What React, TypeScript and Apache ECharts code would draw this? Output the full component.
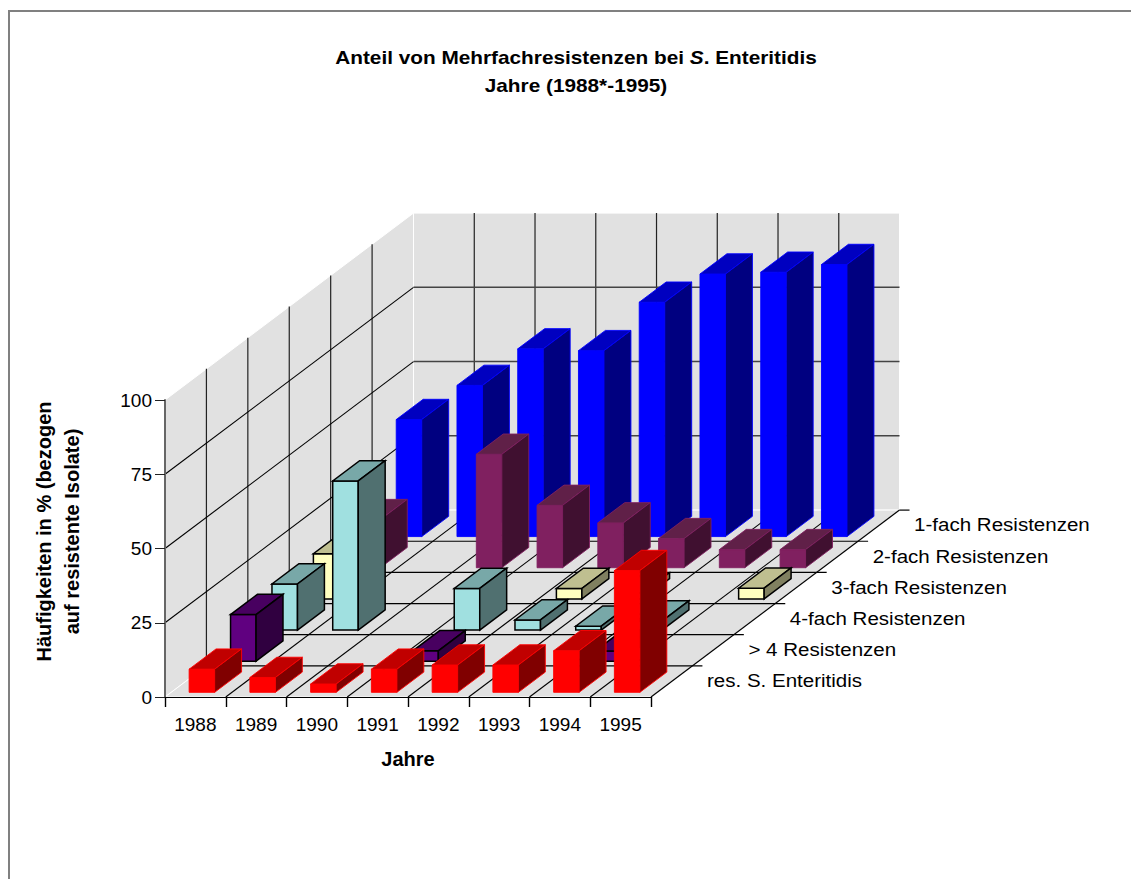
import React, { useEffect, useRef } from "react";
import * as echarts from "echarts";

// Years along the front edge of the floor
const years = ["1988", "1989", "1990", "1991", "1992", "1993", "1994", "1995"];

// Series ordered from the front row to the back row
const rowNames = [
  "res. S. Enteritidis",
  "> 4 Resistenzen",
  "4-fach Resistenzen",
  "3-fach Resistenzen",
  "2-fach Resistenzen",
  "1-fach Resistenzen",
];

const resEnteritidis = [7.8, 5, 2.8, 7.8, 9.2, 9.2, 14, 41];
const mehrAls4 = [15.7, 0, 0, 3.5, 0, 0, 3.4, 0];
const vierfach = [15.5, 50.2, 0, 14, 3.4, 1.3, 3, 0];
const dreifach = [15.2, 0, 0, 0, 3.5, 2, 0, 3.6];
const zweifach = [16.2, 0, 38.2, 21, 15.1, 9.8, 6.1, 6.1];
const einfach = [39.4, 50.9, 63.2, 62.6, 78.9, 88.4, 89, 91.6];
const rowValues = [resEnteritidis, mehrAls4, vierfach, dreifach, zweifach, einfach];

const valueTicks = [25, 50, 75];

// Face colours per row: front, top, side, outline
const rowColors = [
  ["#ff0000", "#c00000", "#800000", "#ff0000"],
  ["#600080", "#480060", "#300040", "#000000"],
  ["#a0e0e0", "#78a8a8", "#507070", "#000000"],
  ["#ffffc0", "#bfbf90", "#808060", "#000000"],
  ["#802060", "#602048", "#401030", "#802060"],
  ["#0000ff", "#0000c0", "#000080", "#0000ff"],
];

// Oblique projection: one row of depth moves a point this far on screen
const DEPTH_X = 41.42;
const DEPTH_Y = -31.15;
const ROWS = 6;

// Bar extent within its category band and within its row
const BAR_LEFT = 0.295;
const BAR_RIGHT = 0.715;
const BAR_NEAR = 0.15;
const BAR_FAR = 0.8;

const FONT = '"Liberation Sans", Arial, sans-serif';

// Builds a projector from (category edge, value, depth in rows) to pixels
function projector(api: any) {
  const band = api.size([1, 0])[0];
  const left = api.coord([0, 0])[0] - band / 2;
  return (cat: number, val: number, depth: number) => [
    left + cat * band + depth * DEPTH_X,
    api.coord([0, val])[1] + depth * DEPTH_Y,
  ];
}

const poly = (points: number[][], fill: string, stroke = fill, lineWidth = 0.8) => ({
  type: "polygon",
  shape: { points },
  style: { fill, stroke, lineWidth },
});

const seg = (a: number[], b: number[], stroke: string, lineWidth = 1) => ({
  type: "line",
  shape: { x1: a[0], y1: a[1], x2: b[0], y2: b[1] },
  style: { stroke, lineWidth, fill: "none" },
});

function renderWalls(_params: any, api: any) {
  const P = projector(api);
  const n = years.length;
  const kids: any[] = [
    poly([P(0, 0, 0), P(0, 100, 0), P(0, 100, ROWS), P(0, 0, ROWS)], "#e1e1e1", "#ffffff", 1),
    poly([P(0, 0, ROWS), P(0, 100, ROWS), P(n, 100, ROWS), P(n, 0, ROWS)], "#e1e1e1", "#ffffff", 1),
    poly([P(0, 0, 0), P(n, 0, 0), P(n, 0, ROWS), P(0, 0, ROWS)], "#e1e1e1", "#ffffff", 1),
  ];
  const tickRun = 10;
  for (let r = 1; r < ROWS; r++) {
    const end = P(n, 0, r);
    kids.push(seg(P(0, 0, r), [end[0] + tickRun, end[1]], "#000000", 1.2));
    kids.push(seg(P(0, 0, r), P(0, 100, r), "#222222", 1.2));
  }
  const back = P(n, 0, ROWS);
  kids.push(seg(back, [back[0] + tickRun, back[1]], "#000000", 1.2));
  for (let c = 1; c < n; c++) {
    kids.push(seg(P(c, 0, 0), P(c, 0, ROWS), "#000000", 1.1));
    kids.push(seg(P(c, 0, ROWS), P(c, 100, ROWS), "#222222", 1.2));
  }
  valueTicks.forEach((v) => {
    kids.push(seg(P(0, v, 0), P(0, v, ROWS), "#000000", 1.1));
    kids.push(seg(P(0, v, ROWS), P(n, v, ROWS), "#444444", 1.5));
  });
  kids.push(seg(P(n, 0, 0), P(n, 0, ROWS), "#000000", 1.2));
  return { type: "group", children: kids };
}

const renderBar = (row: number) => (_params: any, api: any) => {
  const cat = api.value(0);
  const val = api.value(1);
  if (!(val > 0)) return null;
  const P = projector(api);
  const [front, top, side, line] = rowColors[row];
  const l = cat + BAR_LEFT;
  const r = cat + BAR_RIGHT;
  const near = row + BAR_NEAR;
  const far = row + BAR_FAR;
  const width = line === "#000000" ? 1.5 : 0.9;
  return {
    type: "group",
    children: [
      poly([P(l, 0, near), P(r, 0, near), P(r, val, near), P(l, val, near)], front, line, width),
      poly([P(l, val, near), P(r, val, near), P(r, val, far), P(l, val, far)], top, line, width),
      poly([P(r, 0, near), P(r, 0, far), P(r, val, far), P(r, val, near)], side, line, width),
    ],
  };
};

// Row names run along the right floor edge, a fixed distance past it
const ROW_LABEL_GAP = 56;

function renderRowLabel(params: any, api: any) {
  const P = projector(api);
  const row = params.dataIndex;
  const p = P(years.length, 0, row);
  return {
    type: "text",
    x: p[0] + ROW_LABEL_GAP,
    y: p[1] - 16.5,
    scaleX: 1.11,
    style: {
      text: rowNames[row],
      fill: "#000000",
      font: `18.5px ${FONT}`,
      textAlign: "left",
      textVerticalAlign: "middle",
    },
  };
}

export default function App() {
  const ref = useRef<HTMLDivElement>(null);

  useEffect(() => {
    const chart = echarts.init(ref.current!, undefined, { renderer: "svg" });
    const heading = { fontFamily: FONT, fontSize: 18, fontWeight: "bold", fill: "#000", lineHeight: 28 };
    chart.setOption({
      animation: false,
      backgroundColor: "#ffffff",
      graphic: [
        {
          type: "rect",
          shape: { x: 9, y: 11, width: 1400, height: 1100 },
          style: { fill: "none", stroke: "#808080", lineWidth: 2 },
          silent: true,
        },
        {
          type: "text",
          x: 576,
          y: 44,
          scaleX: 1.155,
          silent: true,
          style: {
            text: "{b|Anteil von Mehrfachresistenzen bei }{i|S}{b|. Enteritidis}\n{b|Jahre (1988*-1995)}",
            textAlign: "center",
            rich: { b: heading, i: { ...heading, fontStyle: "italic" } },
          },
        },
      ],
      grid: { left: 165, top: 400, width: 486, height: 297, containLabel: false },
      xAxis: {
        type: "category",
        data: years,
        z: 6,
        name: "Jahre",
        nameLocation: "middle",
        nameGap: 52,
        nameTextStyle: { fontFamily: FONT, fontSize: 20, fontWeight: "bold", color: "#000" },
        axisLine: { show: true, lineStyle: { color: "#000", width: 1.2 } },
        axisTick: { show: true, length: 10, lineStyle: { color: "#000", width: 1.4 } },
        axisLabel: { color: "#000", fontFamily: FONT, fontSize: 19, margin: 18 },
        splitLine: { show: false },
      },
      yAxis: {
        type: "value",
        min: 0,
        max: 100,
        interval: 25,
        z: 6,
        name: "Häufigkeiten in % (bezogen\nauf resistente Isolate)",
        nameLocation: "middle",
        nameRotate: 90,
        nameGap: 79,
        nameTextStyle: {
          fontFamily: FONT,
          fontSize: 20,
          fontWeight: "bold",
          color: "#000",
          lineHeight: 28,
          padding: [0, 0, 0, 34],
        },
        axisLine: { show: true, lineStyle: { color: "#666666", width: 2 } },
        axisTick: { show: true, length: 10, lineStyle: { color: "#222", width: 1 } },
        axisLabel: { color: "#000", fontFamily: FONT, fontSize: 19, margin: 13 },
        splitLine: { show: false },
      },
      series: [
        {
          name: "Wände",
          type: "custom",
          coordinateSystem: "cartesian2d",
          renderItem: renderWalls,
          data: [[0, 0]],
          silent: true,
          z: 1,
        },
        // Drawn from the back row forward so nearer bars cover farther ones
        ...rowValues
          .map((vals, row) => ({
            name: rowNames[row],
            type: "custom",
            coordinateSystem: "cartesian2d",
            renderItem: renderBar(row),
            data: vals.map((v, i) => [i, v]),
            silent: true,
            z: 2 + (ROWS - row),
          }))
          .reverse(),
        {
          name: "Reihen",
          type: "custom",
          coordinateSystem: "cartesian2d",
          renderItem: renderRowLabel,
          data: rowNames.map(() => [0, 0]),
          silent: true,
          z: 10,
        },
      ],
    });
    return () => chart.dispose();
  }, []);

  return <div ref={ref} style={{ position: "fixed", left: 0, top: 0, width: 1131, height: 879 }} />;
}
